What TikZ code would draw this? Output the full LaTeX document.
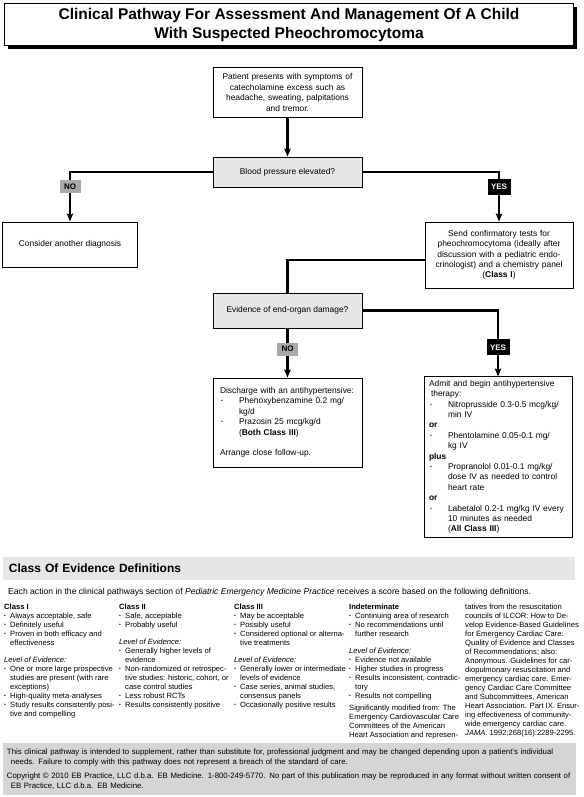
\documentclass[tikz,border=0pt]{standalone}
\usepackage{fontspec}
\setmainfont{Liberation Sans}
\usetikzlibrary{arrows.meta,shadows}

\definecolor{boxgray}{HTML}{E6E6E6}
\definecolor{labgray}{HTML}{A8A8A8}
\definecolor{footgray}{HTML}{D5D5D5}

\newcommand{\flowfont}{\fontsize{8.4bp}{10.4bp}\selectfont}
\newcommand{\colfont}{\fontsize{7.6bp}{9bp}\selectfont}
\newcommand{\dotmark}{\raisebox{.25ex}{\fontsize{5bp}{5bp}\selectfont\textbullet}}
\newcommand{\fbul}{\makebox[19bp][l]{\hspace{1bp}\dotmark}}
\newcommand{\find}{\hspace*{19bp}}
\newcommand{\cbul}{\makebox[6bp][l]{\dotmark}}
\newcommand{\cind}{\hspace*{6bp}}

\begin{document}
\begin{tikzpicture}
	[x=1bp,y=-1bp,
	titlebox/.style={draw, fill=white, line width=1bp, minimum width=568bp, minimum height=42bp,
		align=center, font=\fontsize{15.5bp}{19bp}\selectfont\bfseries,
		general shadow={fill=black, shadow xshift=3.5bp, shadow yshift=-3.5bp}},
	flowbox/.style={draw, line width=1bp, fill=white, inner xsep=7bp, font=\flowfont},
	askbox/.style={flowbox, fill=boxgray, minimum width=149bp, align=center},
	nolab/.style={fill=labgray, font=\fontsize{8bp}{8bp}\selectfont\bfseries, minimum width=21bp, minimum height=13bp, inner sep=1bp},
	yeslab/.style={fill=black, text=white, font=\fontsize{8bp}{8bp}\selectfont\bfseries, minimum width=23bp, minimum height=16bp, inner sep=1bp},
	conn/.style={line width=2.4bp, -{Stealth[length=8bp,width=6.5bp,inset=1.5bp]}},
	plain/.style={line width=2.4bp},
	coltext/.style={anchor=north west, inner sep=0pt, align=left, font=\colfont}]
	\useasboundingbox (0,0) rectangle (584,797);
	
	% title
	\node[titlebox] (title) at (289,25) {Clinical Pathway For Assessment And Management Of A Child\\With Suspected Pheochromocytoma};
	
	% flowchart
	\node[flowbox, minimum width=149bp, minimum height=49bp, text width=135bp, align=center] (start) at (287.5,92.5)
		{Patient presents with symptoms of\\catecholamine excess such as\\headache, sweating, palpitations\\and tremor.};
	\node[askbox, minimum height=30bp] (bp) at (287.5,172) {Blood pressure elevated?};
	\node[flowbox, minimum width=134bp, minimum height=45bp, align=center] (other) at (70,244.5) {Consider another diagnosis};
	\node[flowbox, minimum width=148bp, minimum height=66bp, text width=138bp, inner xsep=5bp, align=center] (confirm) at (499,255)
		{Send confirmatory tests for\\pheochromocytoma (ideally after\\discussion with a pediatric endo-\\crinologist) and a chemistry panel\\(\textbf{Class I})};
	\node[askbox, minimum height=35bp] (organ) at (287.5,310.5) {Evidence of end-organ damage?};
	\node[flowbox, minimum width=149bp, minimum height=89bp, text width=135bp, align=left] (discharge) at (287.5,422.5)
		{Discharge with an antihypertensive:\\
		\fbul Phenoxybenzamine 0.2 mg/\\
		\find kg/d\\
		\fbul Prazosin 25 mcg/kg/d\\
		\find (\textbf{Both Class III})\\[10.4bp]
		Arrange close follow-up.};
	\node[flowbox, minimum width=148bp, minimum height=160bp, text width=138bp, inner xsep=5bp, align=left] (admit) at (498,457)
		{Admit and begin antihypertensive\\
		\hspace*{2bp}therapy:\\
		\fbul Nitroprusside 0.3-0.5 mcg/kg/\\
		\find min IV\\
		\textbf{or}\\
		\fbul Phentolamine 0.05-0.1 mg/\\
		\find kg IV\\
		\textbf{plus}\\
		\fbul Propranolol 0.01-0.1 mg/kg/\\
		\find dose IV as needed to control\\
		\find heart rate\\
		\textbf{or}\\
		\fbul Labetalol 0.2-1 mg/kg IV every\\
		\find 10 minutes as needed\\
		\find (\textbf{All Class III})};
	
	\draw[conn] (start) -- (bp);
	\draw[conn] (bp.west) -| node[pos=.65, nolab] (no1) {NO} (other.north);
	\draw[conn] (bp.east) -| node[pos=.65, yeslab] (yes1) {YES} (confirm.north);
	\draw[plain] ([yshift=-5bp]confirm.west) -| (organ.north);
	\draw[conn] (organ) -- node[pos=.42, nolab] (no2) {NO} (discharge);
	\draw[conn] (organ.east) -| node[pos=.78, yeslab] (yes2) {YES} (admit.north);
	
	% class of evidence definitions
	\node[fill=boxgray, minimum width=572bp, minimum height=23bp, text width=560bp, inner xsep=6bp, align=left,
		font=\fontsize{12bp}{14bp}\selectfont\bfseries] (defs) at (289,568.5) {Class Of Evidence Definitions};
	\node[anchor=base west, inner sep=0pt, font=\fontsize{8.6bp}{10bp}\selectfont] (intro) at (8,594.5)
		{Each action in the clinical pathways section of \textit{Pediatric Emergency Medicine Practice} receives a score based on the following definitions.};
	
	\node[coltext] (class1) at (4,604)
		{\textbf{Class I}\\
		\cbul Always acceptable, safe\\
		\cbul Definitely useful\\
		\cbul Proven in both efficacy and\\
		\cind effectiveness\\[8bp]
		\textit{Level of Evidence:}\\
		\cbul One or more large prospective\\
		\cind studies are present (with rare\\
		\cind exceptions)\\
		\cbul High-quality meta-analyses\\
		\cbul Study results consistently posi-\\
		\cind tive and compelling};
	\node[coltext] (class2) at (119,604)
		{\textbf{Class II}\\
		\cbul Safe, acceptable\\
		\cbul Probably useful\\[8bp]
		\textit{Level of Evidence:}\\
		\cbul Generally higher levels of\\
		\cind evidence\\
		\cbul Non-randomized or retrospec-\\
		\cind tive studies: historic, cohort, or\\
		\cind case control studies\\
		\cbul Less robust RCTs\\
		\cbul Results consistently positive};
	\node[coltext] (class3) at (234,604)
		{\textbf{Class III}\\
		\cbul May be acceptable\\
		\cbul Possibly useful\\
		\cbul Considered optional or alterna-\\
		\cind tive treatments\\[8bp]
		\textit{Level of Evidence:}\\
		\cbul Generally lower or intermediate\\
		\cind levels of evidence\\
		\cbul Case series, animal studies,\\
		\cind consensus panels\\
		\cbul Occasionally positive results};
	\node[coltext] (indet) at (349,604)
		{\textbf{Indeterminate}\\
		\cbul Continuing area of research\\
		\cbul No recommendations until\\
		\cind further research\\[8bp]
		\textit{Level of Evidence:}\\
		\cbul Evidence not available\\
		\cbul Higher studies in progress\\
		\cbul Results inconsistent, contradic-\\
		\cind tory\\
		\cbul Results not compelling\\[3bp]
		Significantly modified from: The\\
		Emergency Cardiovascular Care\\
		Committees of the American\\
		Heart Association and represen-};
	\node[coltext] (source) at (465,604)
		{tatives from the resuscitation\\
		councils of ILCOR: How to De-\\
		velop Evidence-Based Guidelines\\
		for Emergency Cardiac Care:\\
		Quality of Evidence and Classes\\
		of Recommendations; also:\\
		Anonymous. Guidelines for car-\\
		diopulmonary resuscitation and\\
		emergency cardiac care. Emer-\\
		gency Cardiac Care Committee\\
		and Subcommittees, American\\
		Heart Association. Part IX. Ensur-\\
		ing effectiveness of community-\\
		wide emergency cardiac care.\\
		\textit{JAMA}. 1992;268(16):2289-2295.};
	
	% footer
	\node[fill=footgray, minimum width=573bp, minimum height=52bp, text width=569bp, inner xsep=2bp, align=left,
		font=\fontsize{7.8bp}{10bp}\selectfont] (foot) at (289.5,769)
		{\hspace*{2bp}This clinical pathway is intended to supplement, rather than substitute for, professional judgment and may be changed depending upon a patient’s individual\\
		\hspace*{6bp}needs. Failure to comply with this pathway does not represent a breach of the standard of care.\\[4bp]
		\hspace*{2bp}Copyright © 2010 EB Practice, LLC d.b.a. EB Medicine. 1-800-249-5770. No part of this publication may be reproduced in any format without written consent of\\
		\hspace*{6bp}EB Practice, LLC d.b.a. EB Medicine.};
\end{tikzpicture}
\end{document}
